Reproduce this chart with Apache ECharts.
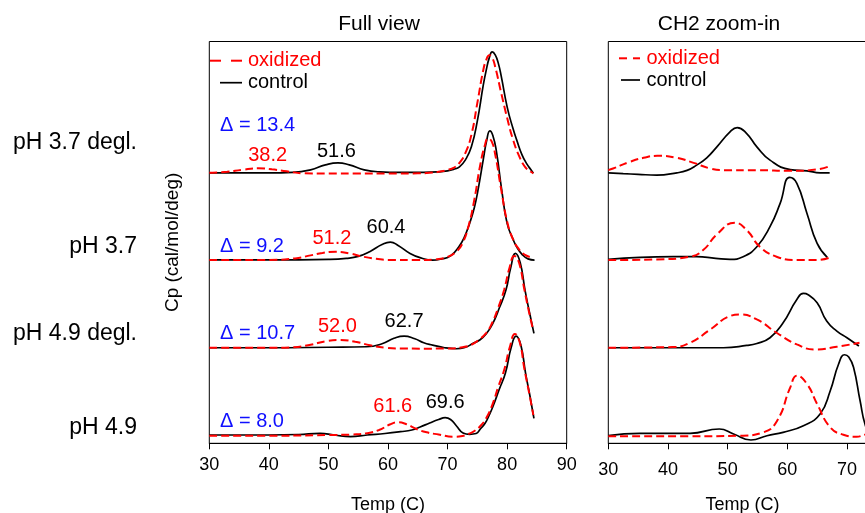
<!DOCTYPE html>
<html>
<head>
<meta charset="utf-8">
<title>DSC thermograms – full view and CH2 zoom-in</title>
<script src="https://cdn.jsdelivr.net/npm/echarts@6/dist/echarts.min.js"></script>
<style>
  html, body { margin: 0; padding: 0; background: #fff; }
  #main { width: 865px; height: 513px; }
</style>
</head>
<body>
<div id="main"></div>
<script>
// ---- sample names, stacking baselines and transition temperatures ----
const samples = ['pH 3.7 degl.', 'pH 3.7', 'pH 4.9 degl.', 'pH 4.9'];
const baselines = [270.6, 184.0, 95.6, 8.3];          // vertical offset of each trace (Cp units)
const ctrlPeakT = [51.6, 60.4, 62.7, 69.6];           // CH2 transition, control
const oxPeakT = [38.2, 51.2, 52.0, 61.6];             // CH2 transition, oxidized
const panelTitles = ['Full view', 'CH2 zoom-in'];
const legendNames = ['oxidized', 'control'];

// ---- full-view thermograms: [temperature (C), excess Cp above baseline] ----
const ctrlFull1 = [[30,0],[35,0],[40,0],[44,0.5],[47,3],[49.5,8],[51.6,10],[53.5,8],[56,3],[58.6,1],[62,0.5],[66,0.5],[68.5,1],[70,2],[71,3.5],[72,6],[73,13],[74,26],[75,52],[76,88],[76.5,103],[77,115],[77.5,121],[78,118],[78.5,110],[79,97],[80,66],[81,44],[81.6,33],[82.5,18],[83.3,9],[84,3],[84.4,-0.5]];
const oxFull1 = [[30,0],[33,1],[35.5,3],[38.2,4.5],[40.5,3.5],[43,1.5],[46,-0.5],[50,-0.7],[55,-0.7],[60,-0.7],[65,-0.5],[67,0],[69,1.5],[70,3],[71,5],[72,10],[73,20],[74,38],[75,70],[76,103],[76.5,113],[77,117.7],[77.5,115],[78,106],[79,80],[80,55],[81,33],[82,17],[83,6],[84,1],[84.4,-0.5]];
const ctrlFull2 = [[30,-0.5],[40,-0.5],[50,0],[53,1],[55,3],[57,8],[59,15],[60.4,17.3],[61.7,14],[63.7,6],[65.5,1.5],[67.5,-0.7],[69,0.5],[70.5,3.5],[71.9,12.6],[72.8,22],[73.7,36],[74.5,52],[75.1,69],[76,100],[76.6,120],[77.1,128.6],[77.6,124],[78.2,108],[79.1,69],[80,36],[81,20],[81.6,12.6],[82.5,5],[83.5,0.5],[84.6,-0.7]];
const oxFull2 = [[30,-0.5],[40,-0.5],[44.4,1],[47,4],[49,6.5],[51.2,7.6],[53.5,6],[56,2.5],[58,0.7],[60,-0.5],[65,-0.7],[68,0],[70,2.5],[71.5,8],[72.5,16],[73.5,33],[74.5,60],[75.5,95],[76.3,115],[76.8,121],[77.4,118],[78,105],[79,70],[80,38],[81,20],[82,10],[83,4.5],[84,2]];
const ctrlFull3 = [[30,0],[40,0],[50,0.5],[56.4,1],[59,4],[61,9.5],[62.7,11.7],[64.5,9],[66,5],[67.5,2.7],[69.5,0],[71.5,-1],[73,0.5],[74.3,4.4],[75.4,7.7],[76.5,14],[77.6,24.4],[78.7,40],[79.8,57.7],[80.6,80],[81.4,94.4],[82.2,85],[83,57.7],[83.8,34],[84.5,14.4]];
const oxFull3 = [[30,0],[40,0],[44.1,0.5],[47,3],[49.5,6.5],[52.0,7.7],[54.5,6],[57,2.5],[59.7,0],[62,-0.7],[66,-0.9],[70,-0.7],[72.5,0.5],[74,3],[75.2,7.7],[76.5,15],[77.5,25],[78.5,40],[79.5,58],[80.4,80],[81.2,91.8],[82,85],[82.9,58],[83.7,35],[84.4,17]];
const ctrlFull4 = [[30,0],[40,0],[45,0.5],[48.6,1.7],[51,0],[53.7,-1.7],[56.5,0],[59.5,1.5],[62.1,3.3],[64,5],[65.4,8],[67,12],[68.5,15.5],[69.6,17.3],[70.5,15.5],[71.5,9],[72.6,2],[73.7,0.7],[74.8,1.5],[75.5,6],[76.3,11.7],[77,20],[77.6,28.3],[78.7,46],[79.7,61.7],[80.7,88],[81.5,99],[82.3,90],[83.1,61.7],[83.8,40],[84.5,16.7]];
const oxFull4 = [[30,-0.7],[40,-0.7],[50,0],[54,0.5],[56.4,1.7],[58.5,5],[60.3,10.5],[61.6,12.7],[63,11],[64.8,6],[66.5,2.7],[68.5,0.5],[71,-1.7],[72.5,-1],[73.5,1],[74.5,4],[75.5,9],[76.5,17],[77.5,30],[78.5,48],[79.5,65],[80.5,89],[81.3,101],[82.1,93],[82.9,66],[83.7,42],[84.4,20]];

// ---- CH2 region, magnified: [temperature (C), excess Cp above baseline] ----
const ctrlZoom1 = [[30,0],[32.5,-0.8],[35,-1.5],[38.1,-2.3],[41.5,0],[43.2,2.5],[44.8,7.7],[46.5,15],[48.2,26],[50.4,41],[51.6,45.3],[53.2,39.3],[54.9,26],[57.1,12.7],[60.5,3.3],[63.3,2],[65.5,0],[67.1,0]];
const oxZoom1 = [[30,2.7],[30.8,4.3],[33.6,11],[35.9,15],[38.2,17],[41.5,15],[44.3,10],[47.1,4.3],[49.3,2.7],[55,2.7],[60.5,2],[64.9,3.3],[67.1,6.7]];
const ctrlZoom2 = [[30,0],[35.3,2],[40.9,2.7],[44.8,2.7],[48,1],[50.4,0],[52.6,2.7],[54.9,12.7],[57.1,32.7],[58.8,56],[60.4,82],[61.6,76],[63.3,46],[65,16],[66.7,2]];
const oxZoom2 = [[30,-0.7],[38.1,0],[43.7,2.7],[45.9,9.3],[48.2,25],[51.2,36.7],[53.2,29.3],[55.4,12.7],[58.2,2.7],[61.6,-0.7],[65,-0.7],[67.2,2]];
const ctrlZoom3 = [[30,0],[40,0],[49.3,0],[53.2,2.3],[54.9,4.3],[57.1,10],[59.3,25],[61.6,48.3],[62.7,54.3],[63.5,53],[65,45],[66.6,26.7],[68.3,16.7],[70,10],[72,1.7]];
const oxZoom3 = [[30,0],[40.9,0.7],[43.7,5],[47.1,18.3],[50.4,31.7],[52.0,33.3],[54.9,28.3],[58.2,15],[61.6,3.3],[64.7,-1.7],[68.3,1],[72.1,5]];
const ctrlZoom4 = [[30,-0.7],[35.3,1.7],[43.7,1.7],[48.6,6],[51,1],[53.9,-5],[56.6,-0.7],[59.3,2.7],[62.7,9.3],[65.5,21],[67.2,44.3],[68.6,71],[69.6,80.3],[70.3,78],[71.1,67.7],[72.2,34.3],[73.1,9.3],[74,0],[75,-2]];
const oxZoom4 = [[30,-1.3],[43.7,-1.3],[52.1,-0.7],[56,2.7],[58.3,14.3],[60.5,47.7],[61.6,59.3],[63.3,51],[65,31],[67.2,7.7],[69.4,0.3],[71.6,-1.7],[73,0.3],[74,1.5]];

// ---- label and legend placement (pixels) ----
const ctrlLabelShift = [[-1.5, 11], [-4.4, 14.7], [0, 15], [0, 15]];
const oxLabelShift = [[9.5, 13], [-3.7, 13.4], [-3, 14], [-4.8, 15.6]];
const deltaLabelRise = [47.7, 12.6, 14.7, 13.3];
const sampleLabelY = [143, 247, 334, 428];
const titleX = [379, 719];
// per panel: dashed-icon segments, solid-icon extent, text x, row y's
const legendLayout = [
  { dashes: [[210, 221], [231, 242]], solid: [220, 242], textX: 248, rows: [60.7, 82.7] },
  { dashes: [[619, 627], [633, 640]], solid: [621, 640], textX: 646.5, rows: [58.3, 80] }
];

const FONT = "'Liberation Sans', Arial, Helvetica, sans-serif";
const RED = '#ff0000';
const BLUE = '#0f0fff';

const full = { ctrl: [ctrlFull1, ctrlFull2, ctrlFull3, ctrlFull4], ox: [oxFull1, oxFull2, oxFull3, oxFull4] };
const zoom = { ctrl: [ctrlZoom1, ctrlZoom2, ctrlZoom3, ctrlZoom4], ox: [oxZoom1, oxZoom2, oxZoom3, oxZoom4] };

function lift(curve, base) { return curve.map(p => [p[0], p[1] + base]); }
function valueAt(curve, t) {
  const p = curve.find(q => Math.abs(q[0] - t) < 1e-9);
  return p ? p[1] : 0;
}

const ctrlLine = { color: '#000', width: 1.7, type: 'solid', opacity: 1 };
const oxLine = { color: RED, width: 2, type: [8, 4], opacity: 1 };

function curveSeries(name, panel, data, lineStyle) {
  return {
    name, type: 'line', xAxisIndex: panel, yAxisIndex: panel, data,
    showSymbol: false, symbol: 'none', smooth: 0.5,
    lineStyle, itemStyle: { color: lineStyle.color }, silent: true, animation: false
  };
}

const series = [];
[full, zoom].forEach((set, panel) => {
  for (let i = 0; i < 4; i++) series.push(curveSeries('control', panel, lift(set.ctrl[i], baselines[i]), ctrlLine));
  for (let i = 0; i < 4; i++) series.push(curveSeries('oxidized', panel, lift(set.ox[i], baselines[i]), oxLine));
});

// peak temperature labels on the full view
const peakPoints = [];
for (let i = 0; i < 4; i++) {
  peakPoints.push({
    value: [oxPeakT[i], baselines[i] + valueAt(full.ox[i], oxPeakT[i])],
    label: { color: RED, offset: [oxLabelShift[i][0], -oxLabelShift[i][1]], formatter: oxPeakT[i].toFixed(1) }
  });
  peakPoints.push({
    value: [ctrlPeakT[i], baselines[i] + valueAt(full.ctrl[i], ctrlPeakT[i])],
    label: { color: '#000', offset: [ctrlLabelShift[i][0], -ctrlLabelShift[i][1]], formatter: ctrlPeakT[i].toFixed(1) }
  });
}
series.push({
  name: 'peaks', type: 'scatter', xAxisIndex: 0, yAxisIndex: 0, symbolSize: 0, silent: true, animation: false,
  itemStyle: { opacity: 1 }, emphasis: { disabled: true },
  data: peakPoints,
  label: { show: true, position: 'inside', fontSize: 20, fontFamily: FONT, opacity: 1 }
});

// shift between control and oxidized transitions
series.push({
  name: 'shift', type: 'scatter', xAxisIndex: 0, yAxisIndex: 0, symbolSize: 0, silent: true, animation: false,
  itemStyle: { opacity: 1 }, emphasis: { disabled: true },
  data: baselines.map((b, i) => ({
    value: [30, b],
    label: { offset: [10.7, -deltaLabelRise[i]], formatter: 'Δ = ' + (ctrlPeakT[i] - oxPeakT[i]).toFixed(1) }
  })),
  label: { show: true, position: 'right', distance: 0, fontSize: 20, fontFamily: FONT, color: BLUE, opacity: 1 }
});

const gridBase = { top: 41.5, height: 401.8, show: true, borderColor: '#000', borderWidth: 1, backgroundColor: 'transparent', containLabel: false, outerBoundsMode: 'none' };

function xAxisFor(panel, max, labelMargin) {
  return {
    type: 'value', gridIndex: panel, min: 30, max, interval: 10,
    name: 'Temp (C)', nameLocation: 'middle', nameGap: 52.5,
    nameTextStyle: { fontSize: 18, fontFamily: FONT, color: '#000' },
    axisLine: { show: true, onZero: false, lineStyle: { color: '#000', width: 1 } },
    axisTick: { show: true, inside: false, length: 6, lineStyle: { color: '#000', width: 1 } },
    axisLabel: { show: true, fontSize: 18, fontFamily: FONT, color: '#000', margin: labelMargin, showMaxLabel: panel === 0 },
    splitLine: { show: false }
  };
}
function yAxisFor(panel) {
  return {
    type: 'value', gridIndex: panel, min: 0, max: 402,
    name: panel === 0 ? 'Cp (cal/mol/deg)' : '', nameLocation: 'middle', nameGap: 27, nameRotate: 90,
    nameTextStyle: { fontSize: 19, fontFamily: FONT, color: '#000' },
    axisLine: { show: false }, axisTick: { show: false }, axisLabel: { show: false }, splitLine: { show: false }
  };
}

const graphics = [];
samples.forEach((s, i) => graphics.push({
  type: 'text', x: 137, y: sampleLabelY[i], silent: true,
  style: { text: s, fontSize: 23, fontFamily: FONT, fill: '#000', textAlign: 'right', textVerticalAlign: 'middle' }
}));
titleX.forEach((cx, i) => graphics.push({
  type: 'text', x: cx, y: 24, silent: true,
  style: { text: panelTitles[i], fontSize: 21, fontFamily: FONT, fill: '#000', textAlign: 'center', textVerticalAlign: 'middle' }
}));
// legend keys: dashed red for oxidized, solid black for control
legendLayout.forEach(L => {
  L.dashes.forEach(d => graphics.push({
    type: 'line', silent: true,
    shape: { x1: d[0], y1: L.rows[0], x2: d[1], y2: L.rows[0] },
    style: { stroke: oxLine.color, lineWidth: oxLine.width }
  }));
  graphics.push({
    type: 'line', silent: true,
    shape: { x1: L.solid[0], y1: L.rows[1], x2: L.solid[1], y2: L.rows[1] },
    style: { stroke: ctrlLine.color, lineWidth: ctrlLine.width }
  });
  legendNames.forEach((n, k) => graphics.push({
    type: 'text', x: L.textX, y: L.rows[k], silent: true,
    style: { text: n, fontSize: 20, fontFamily: FONT, fill: k === 0 ? RED : '#000', textAlign: 'left', textVerticalAlign: 'middle' }
  }));
});

const chart = echarts.init(document.getElementById('main'), null, { renderer: 'canvas' });
chart.setOption({
  animation: false,
  backgroundColor: '#fff',
  textStyle: { fontFamily: FONT },
  grid: [
    Object.assign({ left: 209.3, width: 357.4 }, gridBase),
    Object.assign({ left: 608.3, width: 268.5 }, gridBase)
  ],
  xAxis: [xAxisFor(0, 90, 12.5), xAxisFor(1, 75, 17.5)],
  yAxis: [yAxisFor(0), yAxisFor(1)],
  graphic: graphics,
  series
});
</script>
</body>
</html>
